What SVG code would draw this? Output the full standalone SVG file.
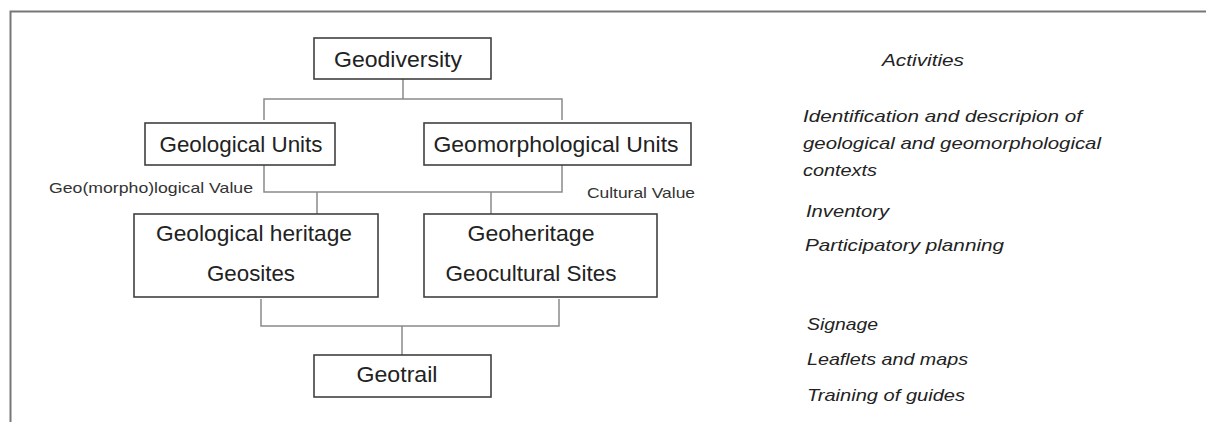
<svg xmlns="http://www.w3.org/2000/svg" width="1206" height="422" viewBox="0 0 1206 422">
<style>
.box{fill:#fff;stroke:#404040;stroke-width:1.6}
.lbl{font-family:"Liberation Sans",Arial,sans-serif;font-size:21.5px;fill:#222;text-anchor:middle}
.small{font-family:"Liberation Sans",Arial,sans-serif;font-size:14.5px;fill:#333}
.act{font-family:"Liberation Sans",Arial,sans-serif;font-size:17px;font-style:italic;fill:#222}
.conn{fill:none;stroke:#8a8a8a;stroke-width:1.5}
.frame{fill:none;stroke:#777;stroke-width:2}
</style>
<rect width="1206" height="422" fill="#fff"/>
<path class="frame" d="M10.5,423 V11.5 H1207"/>
<g id="connectors">
<path class="conn" d="M403,79 V99 M264,120 V99 H562 V120"/>
<path class="conn" d="M264,165 V192 H562 V165 M317,192 V214 M491,192 V214"/>
<path class="conn" d="M261,299 V326 H559 V299 M402,326 V355"/>
</g>
<g id="geodiversity">
<rect class="box" x="314" y="38" width="177" height="41"/>
<text class="lbl" x="398" y="67" textLength="128" lengthAdjust="spacingAndGlyphs">Geodiversity</text>
</g>
<g id="geological-units">
<rect class="box" x="145" y="123" width="190" height="42"/>
<text class="lbl" x="241" y="152" textLength="163" lengthAdjust="spacingAndGlyphs">Geological Units</text>
</g>
<g id="geomorphological-units">
<rect class="box" x="424" y="123" width="267" height="42"/>
<text class="lbl" x="556" y="152" textLength="245" lengthAdjust="spacingAndGlyphs">Geomorphological Units</text>
</g>
<g id="value-labels">
<text class="small" x="49" y="193" textLength="204" lengthAdjust="spacingAndGlyphs">Geo(morpho)logical  Value</text>
<text class="small" x="587" y="198" textLength="108" lengthAdjust="spacingAndGlyphs">Cultural Value</text>
</g>
<g id="geological-heritage">
<rect class="box" x="134" y="214" width="244" height="83"/>
<text class="lbl" x="254" y="241" textLength="196" lengthAdjust="spacingAndGlyphs">Geological heritage</text>
<text class="lbl" x="251" y="281" textLength="88" lengthAdjust="spacingAndGlyphs">Geosites</text>
</g>
<g id="geoheritage">
<rect class="box" x="424" y="214" width="233" height="83"/>
<text class="lbl" x="531" y="241" textLength="127" lengthAdjust="spacingAndGlyphs">Geoheritage</text>
<text class="lbl" x="531" y="281" textLength="171" lengthAdjust="spacingAndGlyphs">Geocultural Sites</text>
</g>
<g id="geotrail">
<rect class="box" x="314" y="355" width="177" height="42"/>
<text class="lbl" x="397" y="382" textLength="81" lengthAdjust="spacingAndGlyphs">Geotrail</text>
</g>
<g id="activities">
<text class="act" x="882" y="66" textLength="82" lengthAdjust="spacingAndGlyphs">Activities</text>
<text class="act" x="803" y="122" textLength="279" lengthAdjust="spacingAndGlyphs">Identification and descripion of</text>
<text class="act" x="803" y="149" textLength="298" lengthAdjust="spacingAndGlyphs">geological and geomorphological</text>
<text class="act" x="803" y="176" textLength="74" lengthAdjust="spacingAndGlyphs">contexts</text>
<text class="act" x="806" y="217" textLength="83" lengthAdjust="spacingAndGlyphs">Inventory</text>
<text class="act" x="805" y="251" textLength="199" lengthAdjust="spacingAndGlyphs">Participatory planning</text>
<text class="act" x="807" y="330" textLength="71" lengthAdjust="spacingAndGlyphs">Signage</text>
<text class="act" x="807" y="365" textLength="161" lengthAdjust="spacingAndGlyphs">Leaflets and maps</text>
<text class="act" x="807" y="401" textLength="158" lengthAdjust="spacingAndGlyphs">Training of guides</text>
</g>
</svg>
